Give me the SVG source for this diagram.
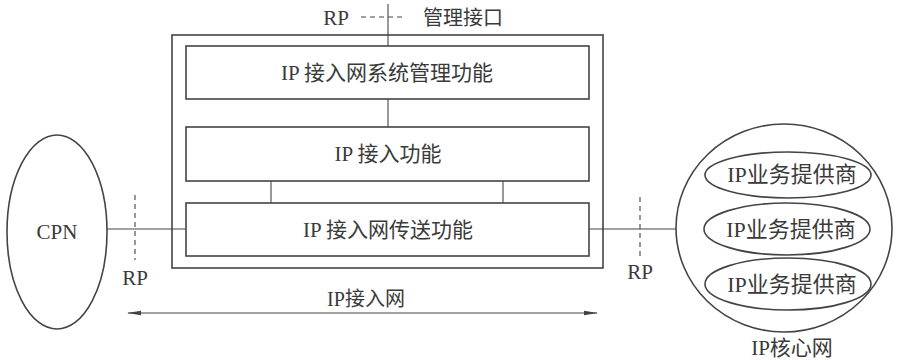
<svg xmlns="http://www.w3.org/2000/svg" width="897" height="360" viewBox="0 0 897 360">
<defs>
<style>
.t{font-family:"Liberation Serif","Times New Roman","DejaVu Serif","Noto Sans CJK SC",serif;font-size:21px;fill:#3a3a3a;text-anchor:middle}
.l{font-family:"Liberation Serif","Times New Roman","DejaVu Serif",serif}
.c{font-family:"Noto Sans CJK SC",sans-serif}
.box{fill:none;stroke:#444;stroke-width:1.6}
.ln{fill:none;stroke:#444;stroke-width:1.1}
.dash{fill:none;stroke:#444;stroke-width:1.1;stroke-dasharray:5,4}
</style>
<marker id="ah" viewBox="0 0 14 6" refX="13" refY="3" markerWidth="14" markerHeight="6" markerUnits="userSpaceOnUse" orient="auto-start-reverse">
<path d="M0,0.8 L14,3 L0,5.2 Z" fill="#444"/>
</marker>
</defs>
<rect width="897" height="360" fill="#fff"/>

<g id="connectors">
<line class="ln" x1="388" y1="4" x2="388" y2="46"/>
<line class="dash" x1="361" y1="17" x2="406" y2="17"/>
<line class="ln" x1="388" y1="99" x2="388" y2="127"/>
<line class="ln" x1="271" y1="181" x2="271" y2="203"/>
<line class="ln" x1="503" y1="181" x2="503" y2="203"/>
<line class="ln" x1="107" y1="229" x2="186" y2="229"/>
<line class="ln" x1="589" y1="229" x2="676" y2="229"/>
<line class="dash" x1="135" y1="195" x2="135" y2="260"/>
<line class="dash" x1="640" y1="197" x2="640" y2="260"/>
<line class="ln" x1="128" y1="313" x2="597" y2="313" marker-start="url(#ah)" marker-end="url(#ah)"/>
</g>

<g id="mgmt-label">
<text class="t l" x="336" y="25">RP</text>
<text class="t c" x="463" y="25" style="font-size:20px">管理接口</text>
</g>

<g id="ip-access-network">
<rect class="box" x="172" y="35" width="431" height="233"/>
</g>

<g id="mgmt-function">
<rect class="box" x="186" y="46" width="403" height="53"/>
<text class="t" x="387" y="80"><tspan class="l">IP </tspan><tspan class="c">接入网系统管理功能</tspan></text>
</g>

<g id="access-function">
<rect class="box" x="186" y="127" width="403" height="54"/>
<text class="t" x="388" y="161"><tspan class="l">IP </tspan><tspan class="c">接入功能</tspan></text>
</g>

<g id="transport-function">
<rect class="box" x="186" y="203" width="403" height="53"/>
<text class="t" x="388" y="237"><tspan class="l">IP </tspan><tspan class="c">接入网传送功能</tspan></text>
</g>

<g id="cpn">
<ellipse class="box" cx="57" cy="232" rx="50" ry="97"/>
<text class="t l" x="57" y="239">CPN</text>
</g>

<g id="rp-left"><text class="t l" x="135" y="285">RP</text></g>
<g id="rp-right"><text class="t l" x="640" y="279">RP</text></g>

<g id="arrow-label"><text class="t" x="366" y="306" style="font-size:20px"><tspan class="l">IP</tspan><tspan class="c">接入网</tspan></text></g>

<g id="ip-core">
<ellipse class="box" cx="784" cy="228" rx="108" ry="104"/>
<text class="t" x="792" y="355"><tspan class="l">IP</tspan><tspan class="c">核心网</tspan></text>
</g>

<g id="isp1">
<ellipse class="box" cx="788" cy="175" rx="83" ry="23"/>
<text class="t" x="792" y="182" style="font-size:22px"><tspan class="l">IP</tspan><tspan class="c">业务提供商</tspan></text>
</g>
<g id="isp2">
<ellipse class="box" cx="787" cy="229" rx="83" ry="26"/>
<text class="t" x="791" y="237" style="font-size:22px"><tspan class="l">IP</tspan><tspan class="c">业务提供商</tspan></text>
</g>
<g id="isp3">
<ellipse class="box" cx="788" cy="284" rx="83" ry="26"/>
<text class="t" x="792" y="292" style="font-size:22px"><tspan class="l">IP</tspan><tspan class="c">业务提供商</tspan></text>
</g>
</svg>
